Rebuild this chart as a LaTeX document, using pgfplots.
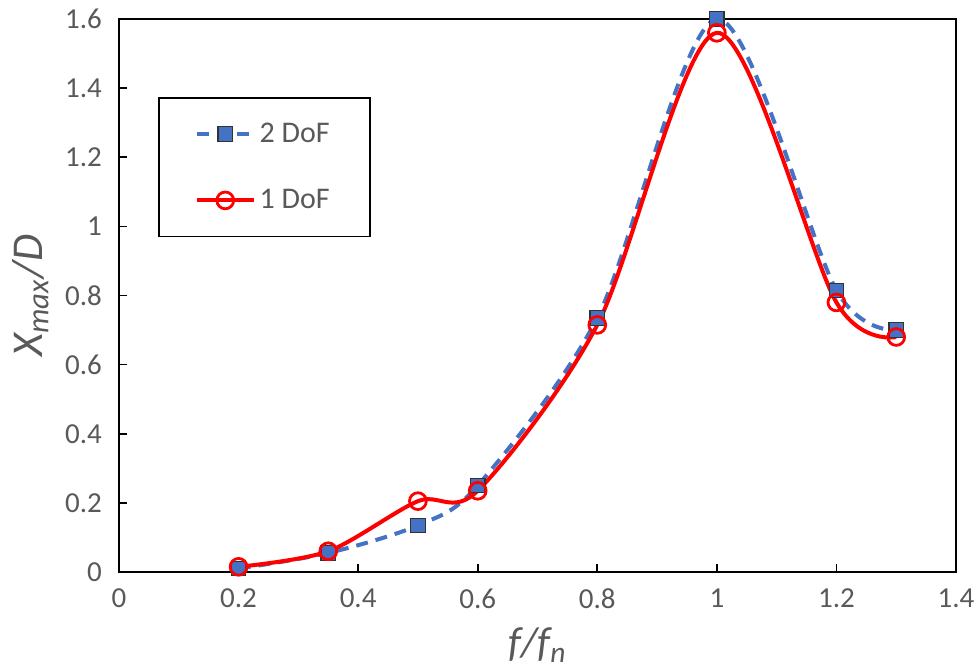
\documentclass[border=0pt]{standalone}
\usepackage{pgfplots}
\pgfplotsset{compat=1.18}
\usepackage{fontspec}
\setmainfont{Carlito}
\definecolor{xlblue}{RGB}{68,114,196}
\definecolor{xlred}{RGB}{255,0,0}
\definecolor{txtgray}{RGB}{89,89,89}
\begin{document}
\begin{tikzpicture}
\begin{axis}[
    scale only axis,
    width=418.5pt, height=276.5pt,
    xmin=0, xmax=1.4, ymin=0, ymax=1.6,
    xtick={0,0.2,...,1.4}, ytick={0,0.2,...,1.6},
    xtick pos=bottom, ytick pos=left,
    tick align=inside, major tick length=4pt,
    axis line style={line width=1.2pt},
    tick style={black, line width=0.8pt},
    /pgf/number format/assume math mode=true,
    ticklabel style={font=\fontsize{14.5}{16}\selectfont, text=txtgray},
    xticklabel style={yshift=-5pt},
    yticklabel style={xshift=-5pt},
    xlabel={\textit{f/f\textsubscript{n}}},
    ylabel={\textit{X\textsubscript{max}/D}},
    label style={text=txtgray},
    xlabel style={font=\fontsize{21}{24}\selectfont,
        at={(axis description cs:0.5,-0.132)}, anchor=center},
    ylabel style={font=\fontsize{22}{25}\selectfont,
        at={(axis description cs:-0.106,0.5)}, anchor=center},
    legend style={at={(axis description cs:0.0466,0.859)}, anchor=north west,
        draw=black, line width=0.8pt, font=\fontsize{15}{17}\selectfont,
        text=txtgray, inner xsep=18pt, inner ysep=10.5pt,
        row sep=18pt},
    legend cell align=left,
    legend image code/.code={
        \draw[#1, mark repeat=2, mark phase=2]
        plot coordinates {(0cm,0cm) (0.5cm,0cm) (1.0cm,0cm)};},
]
\coordinate (sw) at (rel axis cs:0,0);
\coordinate (ne) at (rel axis cs:1,1);
\addplot[color=xlblue, line width=2pt, dash pattern=on 6pt off 4pt,
    smooth, tension=0.5,
    mark=square*, mark size=3.6pt,
    mark options={solid, fill=xlblue, draw=black!80, line width=0.6pt}]
coordinates {
    (0.2,0.01) (0.35,0.055) (0.5,0.135) (0.6,0.25)
    (0.8,0.735) (1.0,1.60) (1.2,0.815) (1.3,0.70)
};
\addlegendentry{2 DoF}
\addplot[color=xlred, line width=2pt, smooth, tension=0.5,
    mark=o, mark size=4.2pt,
    mark options={solid, draw=xlred, line width=1.4pt}]
coordinates {
    (0.2,0.015) (0.35,0.06) (0.5,0.205) (0.6,0.235)
    (0.8,0.715) (1.0,1.56) (1.2,0.78) (1.3,0.68)
};
\addlegendentry{1 DoF}
\end{axis}
\pgfresetboundingbox
\path ([shift={(-59.5pt,-49.5pt)}]sw) rectangle ([shift={(10pt,9.5pt)}]ne);
\end{tikzpicture}
\end{document}
